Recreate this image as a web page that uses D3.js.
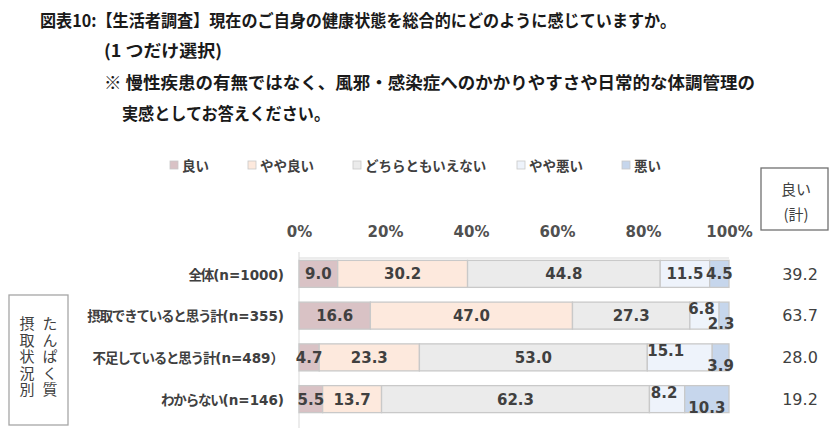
<!DOCTYPE html>
<html><head><meta charset="utf-8">
<script src="https://cdn.jsdelivr.net/npm/d3@7"></script>
<style>
body{margin:0;background:#fff;}
svg{display:block;}
</style></head>
<body>
<script>
const categories = ["全体(n=1000)", "摂取できていると思う計(n=355)", "不足していると思う計(n=489）", "わからない(n=146)"];
const seriesNames = ["良い", "やや良い", "どちらともいえない", "やや悪い", "悪い"];
const good    = [9.0, 16.6, 4.7, 5.5];
const ratherGood = [30.2, 47.0, 23.3, 13.7];
const neutral = [44.8, 27.3, 53.0, 62.3];
const ratherBad = [11.5, 6.8, 15.1, 8.2];
const bad     = [4.5, 2.3, 3.9, 10.3];
const goodTotal = [39.2, 63.7, 28.0, 19.2];
const tickValues = [0, 20, 40, 60, 80, 100];
const tickLabels = ["0%", "20%", "40%", "60%", "80%", "100%"];
const titleLines = [
  "図表10:【生活者調査】現在のご自身の健康状態を総合的にどのように感じていますか。",
  "(1 つだけ選択)",
  "※ 慢性疾患の有無ではなく、風邪・感染症へのかかりやすさや日常的な体調管理の",
  "実感としてお答えください。"
];
const sideLabel = ["たんぱく質", "摂取状況別"];
const totalHeader = ["良い", "(計)"];

const series = [good, ratherGood, neutral, ratherBad, bad];
const colors = ["#d9c2c5", "#fde9dd", "#ebebeb", "#eef3fb", "#c6d6ec"];

const W = 840, H = 441;
const svg = d3.select("body").append("svg").attr("width", W).attr("height", H);
const JP = "'Noto Sans CJK JP', sans-serif";
const MIX = "'DejaVu Sans', 'Noto Sans CJK JP', sans-serif";
const txt = "#404040";

// Title
const titleLayout = [
  {x: 40, y: 27, w: 636},
  {x: 104, y: 57, w: 118},
  {x: 104, y: 89, w: 651},
  {x: 122, y: 120, w: 208}
];
titleLines.forEach((t, i) => {
  svg.append("text").attr("x", titleLayout[i].x).attr("y", titleLayout[i].y)
    .attr("font-family", JP).attr("font-weight", 700).attr("font-size", 17)
    .attr("fill", "#1a1a1a")
    .attr("textLength", titleLayout[i].w).attr("lengthAdjust", "spacingAndGlyphs")
    .text(t);
});

// Scales
const x = d3.scaleLinear().domain([0, 100]).range([299, 729]);
const y = d3.scaleBand().domain(categories).range([253, 420]).paddingInner(0.353).paddingOuter(0.1765);

// Legend
const legendX = [170, 248, 353, 517, 622];
seriesNames.forEach((n, i) => {
  const g = svg.append("g");
  g.append("rect").attr("x", legendX[i]).attr("y", 161).attr("width", 8).attr("height", 8)
    .attr("fill", colors[i]).attr("stroke", "#c8c8c8").attr("stroke-width", 0.8);
  g.append("text").attr("x", legendX[i] + 12).attr("y", 170.5)
    .attr("font-family", JP).attr("font-weight", 700).attr("font-size", 13.5)
    .attr("fill", txt).text(n);
});

// Axis ticks (top)
const axis = d3.axisTop(x).tickValues(tickValues).tickFormat((d, i) => tickLabels[i]).tickSize(0).tickPadding(0);
const axG = svg.append("g").attr("transform", "translate(0,237)").call(axis);
axG.select(".domain").remove();
axG.selectAll("text").attr("font-family", MIX).attr("font-size", 15).attr("font-weight", 700)
  .attr("fill", "#505050");

// Axis lines
svg.append("line").attr("x1", x(0)).attr("x2", x(100)).attr("y1", 258).attr("y2", 258)
  .attr("stroke", "#d9d9d9").attr("stroke-width", 1);
svg.append("line").attr("x1", x(0)).attr("x2", x(0)).attr("y1", 252).attr("y2", 428)
  .attr("stroke", "#d9d9d9").attr("stroke-width", 1);

// Stacked data
const rows = categories.map((c, r) => {
  let acc = 0;
  return series.map((s, k) => {
    const seg = {cat: c, row: r, k: k, v: s[r], x0: acc, x1: acc + s[r]};
    acc += s[r];
    return seg;
  });
});

const segs = rows.flat();
svg.append("g").selectAll("rect").data(segs).join("rect")
  .attr("x", d => x(d.x0)).attr("width", d => x(d.x1) - x(d.x0))
  .attr("y", d => y(d.cat)).attr("height", y.bandwidth())
  .attr("fill", d => colors[d.k]).attr("stroke", "#c9c9c9").attr("stroke-width", 1.3);

// labels nudging for narrow end segments (rows other than first)
function nudge(d) {
  if (d.row === 0) return {dx: 0, dy: 0};
  if (d.k === 3) return {dx: d.row === 2 ? -14 : -3, dy: -7};
  if (d.k === 4) return {dx: d.row === 1 ? -3 : 0, dy: 8};
  return {dx: 0, dy: 0};
}
svg.append("g").selectAll("text").data(segs).join("text")
  .attr("x", d => (x(d.x0) + x(d.x1)) / 2 + nudge(d).dx)
  .attr("y", d => y(d.cat) + y.bandwidth() / 2 + nudge(d).dy)
  .attr("dy", "0.36em").attr("text-anchor", "middle")
  .attr("font-family", MIX).attr("font-weight", 700).attr("font-size", 15).attr("fill", txt)
  .text(d => d.v.toFixed(1));

// Category labels: Japanese part condensed, latin part in DejaVu
const catG = svg.append("g").selectAll("text").data(categories).join("text")
  .attr("x", 284).attr("y", d => y(d) + y.bandwidth() / 2).attr("dy", "0.36em")
  .attr("text-anchor", "end").attr("font-weight", 700).attr("fill", txt);
catG.each(function(d) {
  const m = d.match(/^(.*?)(\(n=.*)$/);
  const t = d3.select(this);
  t.append("tspan").attr("font-family", JP).attr("font-size", 13.5).attr("letter-spacing", -1.2).text(m[1]);
  t.append("tspan").attr("font-family", MIX).attr("font-size", 13.5).text(m[2]);
});

// Good total column
svg.append("rect").attr("x", 761).attr("y", 168).attr("width", 67).attr("height", 62)
  .attr("fill", "#fff").attr("stroke", "#707070").attr("stroke-width", 1.3);
totalHeader.forEach((t, i) => {
  svg.append("text").attr("x", 796).attr("y", 190 + i * 25).attr("dy", "0.36em")
    .attr("text-anchor", "middle").attr("font-family", JP).attr("font-size", 15)
    .attr("fill", txt).text(t);
});
svg.append("g").selectAll("text").data(goodTotal).join("text")
  .attr("x", 800).attr("y", (d, i) => y(categories[i]) + y.bandwidth() / 2).attr("dy", "0.36em")
  .attr("text-anchor", "middle").attr("font-family", MIX).attr("font-size", 16)
  .attr("fill", txt).text(d => d.toFixed(1));

// Side box with vertical text
svg.append("rect").attr("x", 9).attr("y", 295).attr("width", 59).attr("height", 130)
  .attr("fill", "#fff").attr("stroke", "#a6a6a6").attr("stroke-width", 1.3);
const colX = [50, 27];
sideLabel.forEach((s, i) => {
  svg.append("text").attr("x", colX[i]).attr("y", 316)
    .attr("font-family", JP).attr("font-size", 15).attr("fill", txt)
    .style("writing-mode", "vertical-rl").style("text-orientation", "upright")
    .attr("letter-spacing", 1.5)
    .text(s);
});
</script>
</body></html>
